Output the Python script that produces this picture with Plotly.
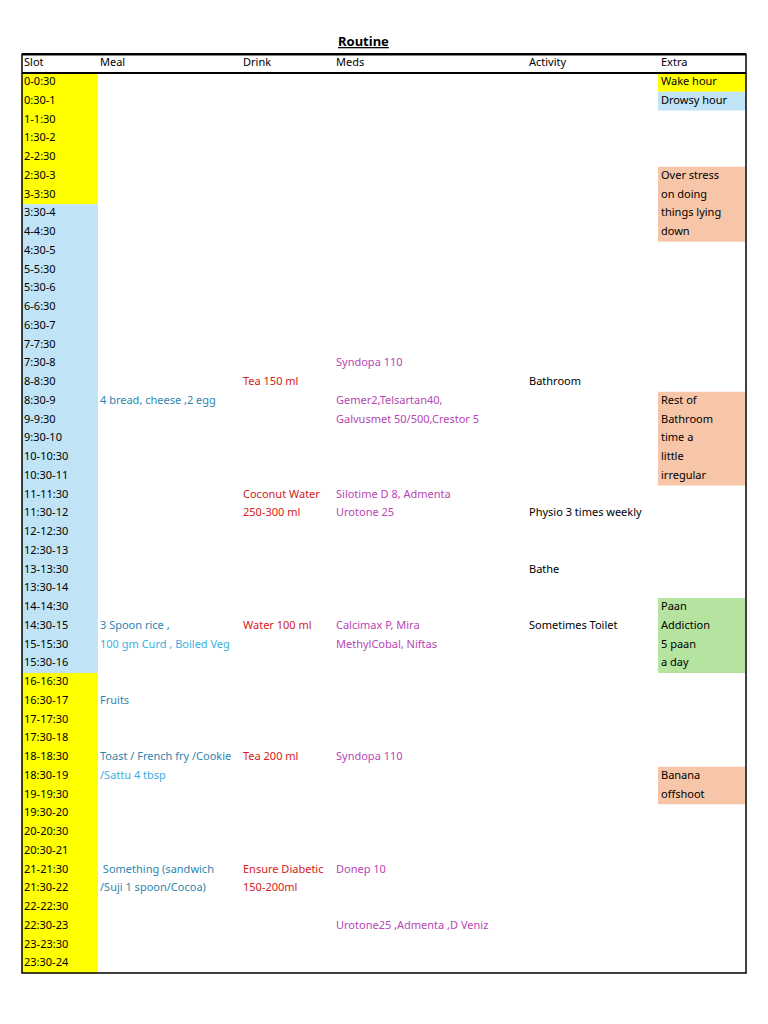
import plotly.graph_objects as go

slots = []
for h in range(24):
    slots.append(f"{h}-{h}:30")
    slots.append(f"{h}:30-{h+1}")

headers = ["Slot", "Meal", "Drink", "Meds", "Activity", "Extra"]
col_x = [24, 100, 243, 336, 529, 661]

slot_fill = [("#FFFF00", 0, 6), ("#C0E4F5", 7, 31), ("#FFFF00", 32, 47)]
extra_fill = [("#FFFF00", 0, 0), ("#C0E4F5", 1, 1), ("#F7C6A8", 5, 8),
              ("#F7C6A8", 17, 21), ("#B5E3A0", 28, 31), ("#F7C6A8", 37, 38)]

meal = [(17, "4 bread, cheese ,2 egg", "#2F85AE"), (29, "3 Spoon rice ,", "#2F85AE"),
        (30, "100 gm Curd , Boiled Veg", "#3BAEE0"), (33, "Fruits", "#2F85AE"),
        (36, "Toast / French fry /Cookie", "#2F85AE"), (37, "/Sattu 4 tbsp", "#3BAEE0"),
        (42, " Something (sandwich", "#2F85AE"), (43, "/Suji 1 spoon/Cocoa)", "#2F85AE")]
drink = [(16, "Tea 150 ml"), (22, "Coconut Water"), (23, "250-300 ml"), (29, "Water 100 ml"),
         (36, "Tea 200 ml"), (42, "Ensure Diabetic"), (43, "150-200ml")]
meds = [(15, "Syndopa 110"), (17, "Gemer2,Telsartan40,"), (18, "Galvusmet 50/500,Crestor 5"),
        (22, "Silotime D 8, Admenta"), (23, "Urotone 25"), (29, "Calcimax P, Mira"),
        (30, "MethylCobal, Niftas"), (36, "Syndopa 110"), (42, "Donep 10"),
        (45, "Urotone25 ,Admenta ,D Veniz")]
activity = [(16, "Bathroom"), (23, "Physio 3 times weekly"), (26, "Bathe"), (29, "Sometimes Toilet")]
extra = [(0, "Wake hour"), (1, "Drowsy hour"), (5, "Over stress"), (6, "on doing"),
         (7, "things lying"), (8, "down"), (17, "Rest of"), (18, "Bathroom"), (19, "time a"),
         (20, "little"), (21, "irregular"), (28, "Paan"), (29, "Addiction"), (30, "5 paan"),
         (31, "a day"), (37, "Banana"), (38, "offshoot")]

RH = 18.75
TOP = 73
OFF = 8
FONT = "Noto Sans"
FS = 11

fig = go.Figure()
shapes = []
for c, a, b in slot_fill:
    shapes.append(dict(type="rect", xref="x", yref="y", x0=22, x1=98, y0=a, y1=b + 1,
                       fillcolor=c, line_width=0, layer="below"))
for c, a, b in extra_fill:
    shapes.append(dict(type="rect", xref="x", yref="y", x0=658, x1=745, y0=a, y1=b + 1,
                       fillcolor=c, line_width=0, layer="below"))
shapes.append(dict(type="rect", xref="x", yref="y", x0=22, x1=746, y0=-1, y1=48,
                   line=dict(color="black", width=1.5)))
shapes.append(dict(type="line", xref="x", yref="y", x0=22, x1=746, y0=0, y1=0,
                   line=dict(color="black", width=2)))
shapes.append(dict(type="line", xref="x", yref="y", x0=22, x1=746, y0=-1, y1=-1,
                   line=dict(color="black", width=2.5)))

def add_text(xs, rows, texts, colors):
    fig.add_trace(go.Scatter(x=xs, y=[r + 0.5 for r in rows], text=texts,
                             mode="text", textposition="middle right",
                             textfont=dict(family=FONT, size=FS, color=colors),
                             hoverinfo="skip", showlegend=False))

def col(i, n):
    return [col_x[i]] * n

add_text(col_x, [-1] * 6, headers, "black")
add_text(col(0, 48), list(range(48)), slots, "black")
add_text(col(1, len(meal)), [m[0] for m in meal], [m[1] for m in meal], [m[2] for m in meal])
add_text(col(2, len(drink)), [d[0] for d in drink], [d[1] for d in drink], "#D42020")
add_text(col(3, len(meds)), [d[0] for d in meds], [d[1] for d in meds], "#B845B5")
add_text(col(4, len(activity)), [d[0] for d in activity], [d[1] for d in activity], "black")
add_text(col(5, len(extra)), [d[0] for d in extra], [d[1] for d in extra], "black")

fig.update_layout(
    width=768, height=1024, margin=dict(l=0, r=0, t=0, b=0),
    paper_bgcolor="white", plot_bgcolor="white", shapes=shapes,
    xaxis=dict(range=[OFF, 768 + OFF], visible=False, fixedrange=True),
    yaxis=dict(range=[(1024 - TOP + OFF) / RH, -(TOP - OFF) / RH], visible=False, fixedrange=True),
    annotations=[dict(text="<b><u>Routine</u></b>", x=363, y=-1.7, xref="x", yref="y",
                      showarrow=False, font=dict(family=FONT, size=13, color="black"))],
)
fig.write_html("out.html")
